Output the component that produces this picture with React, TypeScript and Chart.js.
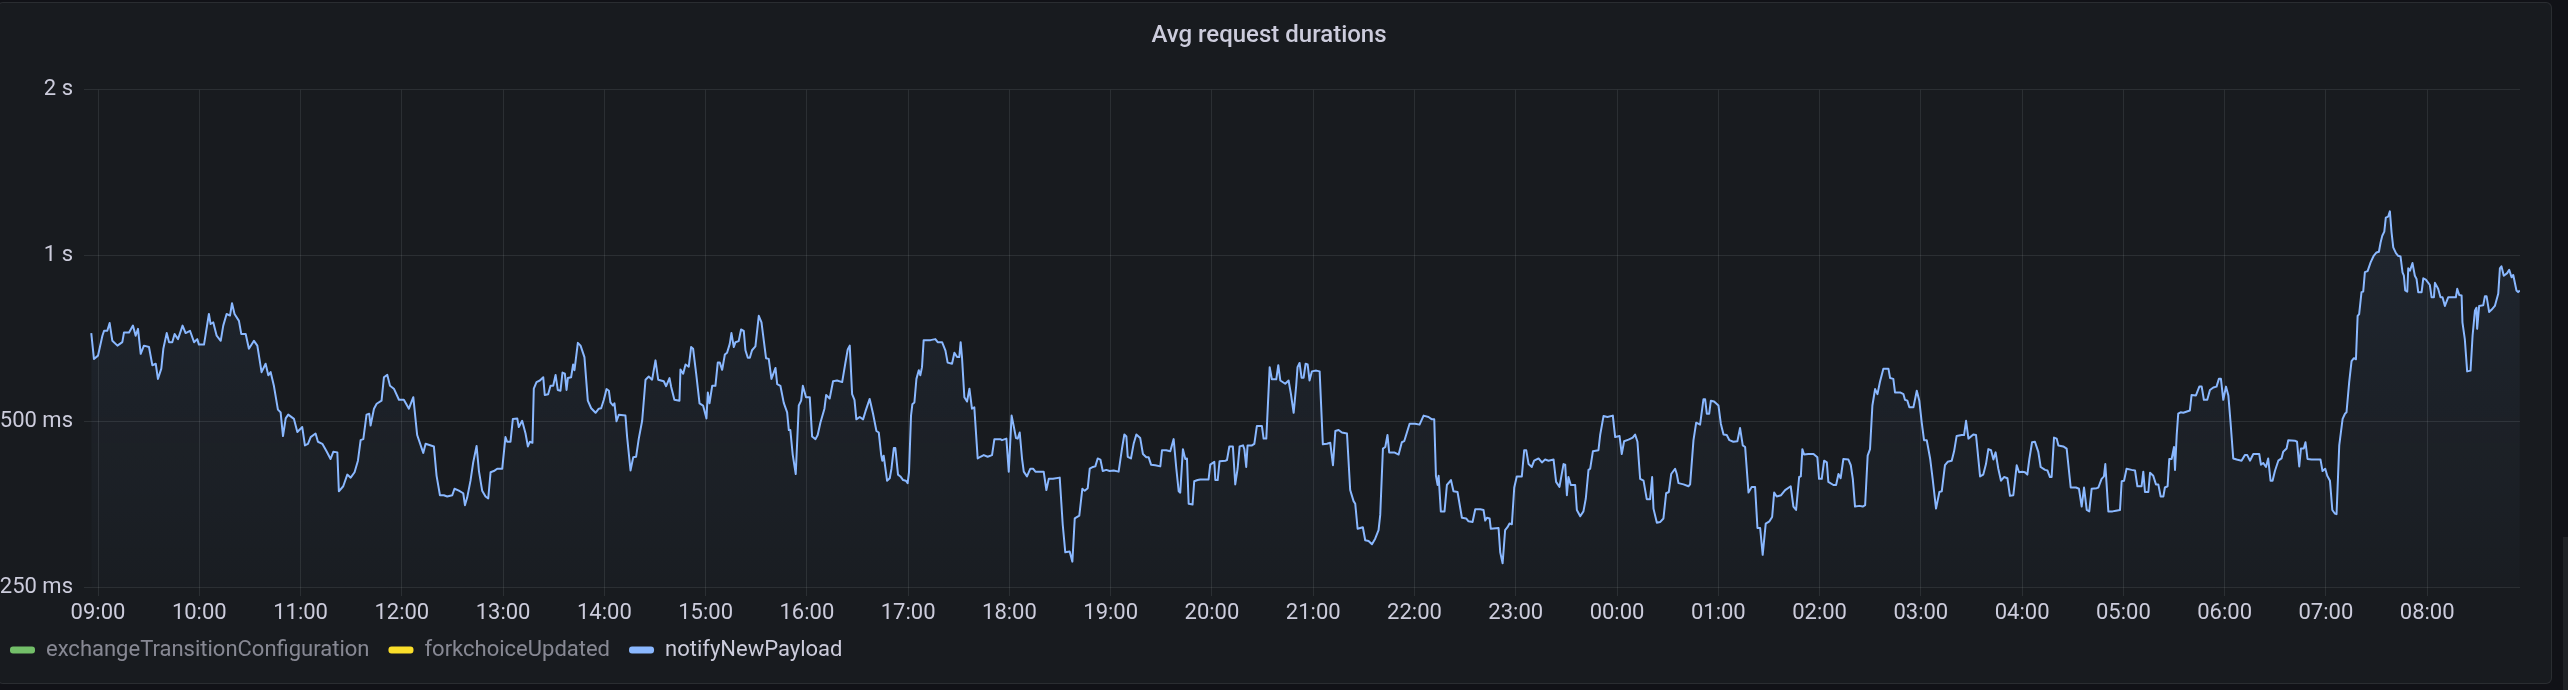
import { useEffect, useRef } from 'react';
import Chart from 'chart.js/auto';

// minutes after 09:00, the x values of the hour grid
const tickMinutes = [0, 60, 120, 180, 240, 300, 360, 420, 480, 540, 600, 660, 720, 780, 840, 900, 960, 1020, 1080, 1140, 1200, 1260, 1320, 1380];
const tickLabels = ['09:00', '10:00', '11:00', '12:00', '13:00', '14:00', '15:00', '16:00', '17:00', '18:00', '19:00', '20:00', '21:00', '22:00', '23:00', '00:00', '01:00', '02:00', '03:00', '04:00', '05:00', '06:00', '07:00', '08:00'];

const yTicks = [250, 500, 1000, 2000];
const yTickLabels = ['250 ms', '500 ms', '1 s', '2 s'];

const seriesNames = ['exchangeTransitionConfiguration', 'forkchoiceUpdated', 'notifyNewPayload'];
const seriesColors = ['#73bf69', '#fade2a', '#8ab8ff'];

// toggled off in the panel, nothing drawn
const exchangeTransitionConfiguration: [number, number][] = [];
const forkchoiceUpdated: [number, number][] = [];

// [minutes after 09:00, avg duration in ms]
const notifyNewPayload: [number, number][] = [
  [-4, 723], [-2.4, 649], [0, 658], [2.6, 715], [3.6, 730], [5.5, 730], [6.9, 754], [8.5, 700], [11.5, 686], [14.4, 696],
  [15.4, 725], [18.4, 725], [20.7, 746], [22.3, 715], [23.7, 736], [25.3, 663], [27.2, 686], [30.2, 682], [32.2, 632], [34.2, 636],
  [35.5, 597], [37.5, 623], [38.7, 677], [40.7, 723], [42.1, 696], [44, 696], [45.4, 720], [47.4, 705], [50.1, 746], [51.9, 723],
  [54.5, 730], [56.9, 696], [58.8, 705], [59.8, 689], [62.8, 689], [63.8, 720], [65.7, 783], [66.7, 751], [68.3, 756], [70.3, 715],
  [72.7, 700], [74.2, 746], [76.2, 783], [78.2, 778], [79.4, 819], [80.9, 783], [83.5, 761], [84.9, 720], [87.5, 720], [89.4, 677],
  [92.4, 700], [94.4, 686], [96.9, 614], [99.3, 636], [100.9, 606], [102.3, 614], [104.2, 580], [106.6, 525], [108.2, 519], [109.6, 470],
  [111.2, 506], [112.7, 514], [116.1, 505], [118.1, 478], [121, 488], [122.6, 452], [124.4, 455], [126, 468], [128.9, 475], [130.3, 459],
  [132.9, 455], [135.4, 441], [137.8, 427], [139.4, 440], [141.8, 439], [142.7, 373], [145.3, 381], [147.7, 400], [149.7, 395], [152, 404],
  [154, 424], [155.6, 462], [157.2, 464], [159.1, 514], [160.7, 516], [161.5, 491], [163.5, 527], [165.1, 538], [168, 545], [169.4, 601],
  [171.4, 607], [173, 580], [175.3, 573], [178.3, 547], [181.2, 547], [184.2, 527], [186.8, 553], [189.1, 472], [192.7, 438], [194.1, 455],
  [199, 450], [200.6, 398], [202.6, 367], [204.9, 367], [206.9, 365], [209.9, 367], [211.2, 377], [213.8, 374], [216.4, 370], [217.4, 352],
  [218.7, 363], [220.7, 390], [222.3, 421], [224.3, 451], [225.7, 406], [227.6, 374], [229.6, 365], [231.2, 362], [232.6, 404], [234.5, 406],
  [236.5, 410], [239.5, 410], [241.4, 468], [242.4, 459], [244.4, 459], [245.8, 505], [248.4, 506], [249.3, 488], [251.3, 501], [253.3, 475],
  [254.7, 450], [255.9, 459], [257.4, 457], [258.2, 573], [259.8, 589], [261.8, 593], [263.8, 601], [264.7, 558], [266.7, 560], [268.1, 580],
  [269.7, 580], [271.1, 607], [272.4, 570], [274, 568], [275.2, 613], [276.6, 610], [277.6, 570], [278.4, 599], [280.3, 601], [281.5, 634],
  [282.3, 619], [284.3, 694], [285.9, 686], [288.2, 654], [290.2, 545], [292.2, 528], [294.8, 518], [296.7, 527], [298.1, 528], [299.7, 547],
  [301.3, 572], [302.7, 568], [303.6, 541], [305.2, 534], [306, 539], [307.2, 500], [308.6, 514], [312.5, 512], [313.5, 468], [315.5, 407],
  [317.1, 430], [318.8, 431], [320.4, 465], [322.4, 501], [324.4, 595], [326.3, 603], [328.3, 595], [330.3, 645], [331.9, 595], [335.2, 591],
  [336.6, 579], [338.6, 599], [339.6, 577], [341.5, 547], [344.5, 545], [345.1, 621], [346.7, 610], [348.1, 634], [350, 628], [351.4, 682],
  [352.6, 677], [354.4, 610], [356.4, 539], [358.5, 534], [360.5, 506], [361.3, 564], [362.3, 539], [363.9, 580], [365.8, 580], [367.2, 639],
  [368.4, 639], [369.8, 620], [371.4, 661], [372.7, 666], [374.3, 691], [375.3, 723], [376.7, 682], [377.7, 696], [379.6, 699], [381, 734],
  [382.6, 730], [383.6, 673], [385, 652], [386.2, 652], [387.5, 673], [389.5, 684], [391.5, 777], [393.1, 756], [394.1, 715], [395.8, 651],
  [397.4, 649], [399, 597], [401.4, 625], [402.4, 584], [404.3, 580], [406.3, 540], [408.3, 519], [409.3, 482], [410.2, 482], [411.6, 435],
  [413.4, 401], [415.2, 534], [416.6, 545], [417.6, 580], [419.5, 553], [421.7, 553], [423.1, 469], [425.1, 464], [426.4, 472], [428, 497],
  [430.4, 527], [431.4, 558], [433.5, 550], [435.5, 591], [437.9, 593], [440.9, 589], [442.8, 638], [444.2, 675], [445.4, 686], [446.8, 560],
  [448.2, 547], [449.3, 504], [451.3, 509], [453.3, 504], [454.7, 521], [457.2, 549], [459.2, 516], [461.2, 480], [462.6, 477], [464, 435],
  [464.7, 424], [465.5, 433], [467.5, 390], [469.1, 394], [470.1, 410], [471.5, 447], [472.4, 447], [474, 400], [475.4, 397], [477, 391],
  [478.6, 390], [479.7, 386], [480.5, 404], [481.7, 512], [482.5, 537], [483.7, 541], [484.9, 597], [486.3, 619], [487.2, 606], [488.2, 627],
  [489.2, 702], [493.2, 702], [496.1, 705], [497.5, 696], [500.1, 696], [502.1, 672], [503.4, 639], [506, 636], [507.4, 666], [509, 654],
  [510.3, 654], [511.1, 696], [511.9, 654], [513.3, 553], [514.9, 543], [516.3, 573], [517.8, 527], [519.2, 530], [521.2, 428], [522.8, 431],
  [524.8, 434], [527.1, 431], [529.7, 434], [531.1, 464], [534.6, 464], [535.6, 462], [538.2, 465], [539.6, 405], [541.3, 512], [542.5, 491],
  [543.9, 466], [544.9, 465], [546.1, 477], [547.5, 427], [548.5, 405], [550.4, 397], [552.4, 410], [554, 410], [555.4, 405], [558, 405],
  [560.3, 405], [561.9, 375], [563.3, 393], [565.8, 393], [569.8, 395], [571.6, 324], [573.1, 289], [575.7, 290], [577.3, 278], [578.7, 333],
  [581.4, 337], [583.2, 377], [584.6, 374], [586.4, 378], [587.6, 410], [589.5, 413], [590.9, 414], [592.3, 428], [593.9, 426], [595.3, 406],
  [597.4, 408], [599.4, 406], [601.8, 407], [604.7, 405], [606.7, 446], [608.1, 473], [609.3, 469], [610.1, 431], [612, 428], [613.6, 455],
  [615.2, 473], [617.5, 466], [619.1, 436], [621.1, 430], [622.5, 430], [623.9, 417], [626.4, 416], [629.4, 414], [630.4, 443], [632.9, 443],
  [635.3, 441], [637.3, 464], [638.9, 410], [640.3, 373], [641.2, 371], [642.8, 445], [644.2, 427], [645.2, 428], [646.2, 354], [648.5, 353],
  [649.5, 389], [651.5, 391], [653.1, 392], [658, 392], [659, 417], [661.4, 422], [662, 391], [663.4, 391], [664.5, 423], [667.9, 424],
  [668.9, 425], [670.3, 450], [672.4, 450], [673.8, 384], [675.2, 410], [676.4, 450], [678.4, 452], [679.2, 445], [680.3, 413], [681.1, 452],
  [683.7, 452], [685.1, 455], [686.6, 490], [689.6, 490], [690.6, 465], [692.2, 465], [694.2, 627], [695.5, 596], [698.1, 596], [699.3, 632],
  [700.5, 593], [703.4, 585], [705.4, 593], [706.8, 560], [708.4, 518], [709.9, 580], [710.7, 627], [711.9, 638], [713.1, 600], [714.3, 600],
  [715.5, 636], [716.7, 634], [717.8, 593], [719.2, 616], [721.8, 618], [723.8, 616], [725.7, 454], [728.1, 455], [730.1, 457], [731.7, 416],
  [733.1, 480], [735, 482], [737, 477], [740, 475], [741.9, 375], [743.9, 358], [744.9, 354], [746.3, 319], [749.4, 321], [750.8, 304],
  [752.8, 303], [754.8, 299], [756.7, 306], [758.7, 317], [759.7, 338], [761.3, 446], [762.7, 449], [764, 472], [765, 439], [768, 439],
  [770.6, 435], [772.5, 458], [773.9, 460], [775.5, 477], [777.1, 495], [780.4, 495], [783, 493], [785.4, 512], [788.3, 509], [790.3, 504],
  [791.7, 504], [792.7, 398], [793.7, 383], [794.3, 398], [795.6, 343], [797.8, 343], [799.2, 383], [801.6, 391], [803.1, 373], [805.5, 372],
  [808.1, 334], [810.6, 333], [812, 329], [814.4, 328], [816, 346], [819, 346], [820.9, 345], [821.9, 330], [822.9, 334], [824.5, 333],
  [825.2, 319], [829.8, 320], [830.8, 289], [832.2, 276], [833.7, 317], [835.1, 321], [836.3, 326], [837.7, 325], [839.1, 379], [840.6, 397],
  [843.6, 397], [845, 443], [846.2, 443], [847.6, 418], [849.5, 413], [850.9, 424], [853.5, 428], [855.5, 421], [857.4, 426], [859.4, 424],
  [862.4, 426], [863.9, 388], [865.9, 380], [868.3, 418], [869.3, 417], [870.3, 367], [871.2, 396], [872.6, 383], [875.2, 383], [876.2, 345],
  [878.2, 336], [880.1, 343], [881.5, 362], [883.1, 408], [884.1, 410], [885.7, 441], [889, 443], [890, 472], [892, 511], [894.3, 509],
  [897.5, 512], [898.9, 468], [901.5, 470], [902.8, 436], [904.2, 460], [906.8, 463], [909.3, 467], [910.7, 473], [912.1, 459], [913.7, 393],
  [915.7, 390], [917.6, 361], [919.6, 361], [920.8, 396], [921.6, 347], [923.6, 327], [925.5, 328], [927.5, 333], [929.1, 370], [930.7, 372],
  [932.1, 401], [934.4, 410], [935.4, 401], [936.4, 386], [939.4, 384], [942.3, 381], [943.3, 384], [945.3, 462], [946.9, 497], [949.2, 493],
  [951.2, 548], [952.2, 548], [953.2, 516], [954.6, 516], [955.6, 545], [957.5, 543], [960.1, 534], [961.5, 495], [963.1, 473], [965, 472],
  [966.6, 462], [968.9, 459], [971.3, 460], [972.9, 486], [974.5, 452], [975.9, 449], [977.9, 371], [979.8, 380], [981.8, 380], [983.2, 320],
  [984.8, 320], [986.3, 286], [988.1, 326], [990.3, 329], [991.9, 335], [993.1, 371], [994.6, 365], [997.2, 367], [999.6, 375], [1002.9, 381],
  [1004.5, 350], [1006.1, 345], [1007.9, 396], [1008.9, 397], [1009.8, 445], [1010.8, 435], [1013.4, 436], [1016.4, 436], [1018.7, 430], [1019.7, 393],
  [1021.3, 393], [1022.7, 424], [1024.3, 421], [1025.2, 388], [1028.2, 383], [1029.8, 383], [1031.2, 401], [1032.5, 394], [1034.1, 427], [1037.1, 426],
  [1038.5, 416], [1039.7, 393], [1041, 350], [1043.6, 351], [1045.6, 350], [1047, 352], [1048.5, 433], [1049.9, 445], [1051.3, 534], [1052.9, 572],
  [1054.3, 560], [1055.8, 590], [1057.8, 623], [1060.8, 623], [1061.8, 599], [1063.7, 597], [1064.7, 564], [1067.7, 564], [1069.7, 560], [1070.6, 547],
  [1072, 545], [1073.2, 530], [1075.6, 530], [1077.6, 568], [1079.1, 545], [1080.5, 498], [1081.9, 462], [1083.5, 462], [1085.5, 428], [1087, 393],
  [1089, 347], [1091, 372], [1092.4, 373], [1094.3, 416], [1095.9, 422], [1098.3, 424], [1099.7, 441], [1101.2, 470], [1104.2, 472], [1105.6, 472],
  [1106.8, 501], [1108.2, 465], [1111.1, 473], [1112.7, 472], [1115.1, 397], [1117, 400], [1118.6, 418], [1120, 445], [1121.6, 443], [1123, 426],
  [1124.3, 439], [1125.9, 410], [1127.5, 390], [1129.3, 396], [1131.3, 394], [1132.8, 366], [1134.8, 367], [1136.8, 416], [1138.2, 404], [1140.1, 405],
  [1141.7, 404], [1143.1, 400], [1144.3, 427], [1145.9, 458], [1147.6, 459], [1149.6, 440], [1151, 413], [1153.6, 408], [1155, 407], [1156.5, 396],
  [1157.5, 396], [1158.9, 467], [1160.5, 465], [1161.5, 452], [1164.4, 450], [1166.4, 446], [1168.8, 379], [1171.9, 379], [1173.7, 377], [1175.3, 350],
  [1176.7, 379], [1178.3, 345], [1179.8, 343], [1181.2, 377], [1184.2, 378], [1185.2, 379], [1187.1, 393], [1188.5, 397], [1189.3, 418], [1191.1, 343],
  [1193.6, 343], [1195.6, 344], [1198, 345], [1199, 389], [1200.4, 390], [1201.9, 410], [1204.9, 408], [1206.9, 407], [1208.3, 381], [1210.8, 381],
  [1211.8, 405], [1212.8, 372], [1214.8, 372], [1215.8, 403], [1217.7, 398], [1219.3, 384], [1220.7, 384], [1222.1, 365], [1223.7, 365], [1224.6, 379],
  [1226.2, 381], [1227.2, 427], [1228.6, 427], [1230, 449], [1230.6, 408], [1231.6, 472], [1232.5, 516], [1233.9, 519], [1235.5, 518], [1239.4, 523],
  [1240.4, 558], [1243, 557], [1245, 578], [1246.4, 578], [1247.7, 547], [1249.7, 547], [1251.3, 570], [1253.3, 576], [1255.2, 578], [1256.6, 597],
  [1257.8, 597], [1259.2, 547], [1260.8, 578], [1262.2, 557], [1263.5, 498], [1265.1, 428], [1267.1, 426], [1270, 424], [1272, 434], [1273.4, 434],
  [1275, 424], [1277, 436], [1278.5, 436], [1280.5, 436], [1281.5, 417], [1282.9, 420], [1284.5, 413], [1285.8, 428], [1287.2, 390], [1288.4, 390],
  [1289.8, 406], [1291.8, 424], [1293.7, 428], [1294.7, 440], [1296.7, 446], [1297.7, 462], [1301.6, 461], [1302.9, 459], [1304.2, 414], [1305.2, 446],
  [1306.9, 446], [1307.9, 458], [1309.1, 427], [1311.5, 426], [1313.5, 426], [1316.8, 426], [1318, 406], [1319.6, 410], [1320.8, 398], [1322.4, 390],
  [1323.8, 345], [1325.3, 340], [1326.3, 339], [1326.9, 377], [1327.9, 452], [1329.9, 505], [1331.3, 516], [1332.2, 519], [1333.8, 589], [1335.2, 643],
  [1336.6, 651], [1337.8, 648], [1338.8, 777], [1339.7, 783], [1341.1, 858], [1342.1, 860], [1343.1, 933], [1344.7, 937], [1346.5, 972], [1348.4, 1000],
  [1350, 1013], [1351.4, 1016], [1352.4, 1056], [1353.4, 1086], [1354.6, 1105], [1355.5, 1172], [1356.9, 1177], [1357.9, 1203], [1358.9, 1102], [1359.9, 1035],
  [1361.5, 1010], [1362.8, 999], [1364.2, 996], [1365.4, 932], [1366.2, 919], [1367, 864], [1368.2, 860], [1368.8, 948], [1369.8, 939], [1371.3, 969],
  [1372.7, 919], [1373.7, 907], [1374.7, 858], [1376.7, 858], [1377.7, 909], [1379.2, 904], [1381.6, 884], [1382.6, 840], [1384, 840], [1384.6, 892],
  [1386.5, 870], [1387.9, 840], [1389.1, 840], [1390.5, 810], [1392.5, 840], [1394.4, 840], [1397, 840], [1397.8, 870], [1399, 848], [1400.4, 846],
  [1400.9, 756], [1402.3, 705], [1403.7, 616], [1405.7, 618], [1406.9, 715], [1408.3, 794], [1409.2, 804], [1409.6, 736], [1410.8, 810], [1413.2, 812],
  [1414.2, 843], [1415.2, 843], [1416.7, 790], [1418.1, 797], [1420.1, 810], [1422.1, 852], [1423.1, 948], [1424, 956], [1425.4, 919], [1427.4, 929],
  [1428.6, 942], [1430, 913], [1431, 922], [1432.9, 864], [1433.9, 858], [1434.9, 864],
];

const toPoints = (rows: [number, number][]) => rows.map(([x, y]) => ({ x, y }));

export default function App() {
  const canvasRef = useRef<HTMLCanvasElement>(null);
  const chartRef = useRef<Chart | null>(null);

  useEffect(() => {
    if (!canvasRef.current) return;
    if (chartRef.current) chartRef.current.destroy();

    const series = [exchangeTransitionConfiguration, forkchoiceUpdated, notifyNewPayload];

    chartRef.current = new Chart(canvasRef.current, {
      type: 'line',
      data: {
        datasets: series.map((rows, i) => ({
          label: seriesNames[i],
          data: toPoints(rows),
          borderColor: seriesColors[i],
          borderWidth: 2,
          borderJoinStyle: 'round' as const,
          pointRadius: 0,
          tension: 0,
          fill: 'start',
          backgroundColor: (ctx: any) => {
            const area = ctx.chart.chartArea;
            if (!area) return 'rgba(138, 184, 255, 0.05)';
            const g = ctx.chart.ctx.createLinearGradient(0, area.top, 0, area.bottom);
            g.addColorStop(0, 'rgba(138, 184, 255, 0.09)');
            g.addColorStop(1, 'rgba(138, 184, 255, 0.015)');
            return g;
          },
        })),
      },
      options: {
        animation: false,
        responsive: false,
        events: [],
        normalized: true,
        layout: { padding: 0 },
        plugins: {
          title: {
            display: true,
            text: 'Avg request durations',
            color: '#ccccdc',
            font: { family: 'Roboto', size: 24, weight: 500 as any, lineHeight: 1.2 },
            padding: { top: 22, bottom: 39 },
          },
          legend: {
            position: 'bottom',
            align: 'start',
            onClick: () => {},
            labels: {
              boxWidth: 25,
              boxHeight: 7,
              padding: 19,
              useBorderRadius: true,
              borderRadius: 3,
              font: { family: 'Roboto', size: 22 },
              generateLabels: (chart) =>
                chart.data.datasets.map((ds, i) => ({
                  text: ds.label as string,
                  fillStyle: seriesColors[i],
                  strokeStyle: seriesColors[i],
                  lineWidth: 0,
                  hidden: false,
                  fontColor: i === 2 ? '#ccccdc' : 'rgba(204, 204, 220, 0.62)',
                  borderRadius: 3,
                  datasetIndex: i,
                })),
            },
          },
          tooltip: { enabled: false },
        },
        scales: {
          x: {
            type: 'linear',
            min: -8.3,
            max: 1435,
            afterBuildTicks: (scale) => {
              scale.ticks = tickMinutes.map((value) => ({ value }));
            },
            afterFit: (scale) => {
              scale.height = 33;
            },
            grid: { color: 'rgba(240, 250, 255, 0.09)', drawTicks: true, tickLength: 9 },
            border: { display: false },
            ticks: {
              color: '#ccccdc',
              padding: 10,
              maxRotation: 0,
              autoSkip: false,
              font: { family: 'Roboto', size: 22, lineHeight: '14px' as any },
              callback: (value) => tickLabels[tickMinutes.indexOf(Number(value))] ?? '',
            },
          },
          y: {
            type: 'logarithmic',
            position: 'left',
            min: 250,
            max: 2000,
            afterBuildTicks: (scale) => {
              scale.ticks = yTicks.map((value) => ({ value }));
            },
            afterFit: (scale) => {
              scale.width = 93;
            },
            grid: { color: 'rgba(240, 250, 255, 0.09)', drawTicks: false },
            border: { display: false },
            ticks: {
              color: '#ccccdc',
              padding: 11,
              font: { family: 'Roboto', size: 22 },
              callback: (value) => yTickLabels[yTicks.indexOf(Number(value))] ?? '',
            },
          },
          gutter: {
            type: 'linear',
            position: 'right',
            display: true,
            grid: { display: false },
            border: { display: false },
            ticks: { display: false },
            afterFit: (scale) => {
              scale.width = 27;
            },
          },
        },
      },
    });

    return () => {
      if (chartRef.current) {
        chartRef.current.destroy();
        chartRef.current = null;
      }
    };
  }, []);

  return (
    <div style={{ position: 'fixed', inset: 0, background: '#111217', overflow: 'hidden' }}>
      <div
        style={{
          position: 'absolute',
          left: -3,
          top: 2,
          width: 2555,
          height: 682,
          boxSizing: 'border-box',
          background: '#181b1f',
          border: '1px solid rgba(204, 204, 220, 0.1)',
          borderRadius: 6,
        }}
      />
      <div style={{ position: 'absolute', right: 0, top: 537, width: 5, bottom: 0, background: '#202226' }} />
      <div style={{ position: 'absolute', left: -9, top: 0, width: 2556, height: 671 }}>
        <canvas ref={canvasRef} width={2556} height={671} />
      </div>
    </div>
  );
}
